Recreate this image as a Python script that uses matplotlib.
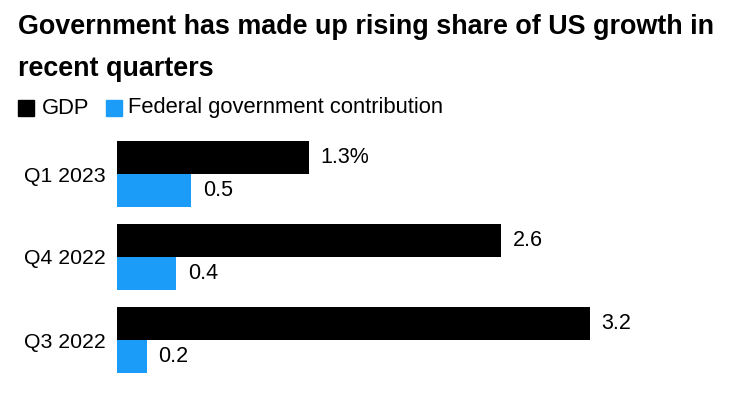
import matplotlib.pyplot as plt
from matplotlib.patches import Rectangle
import numpy as np

plt.rcParams['font.family'] = ['Liberation Sans', 'DejaVu Sans']

quarters = ["Q1 2023", "Q4 2022", "Q3 2022"]
gdp = [1.3, 2.6, 3.2]
federal = [0.5, 0.4, 0.2]
gdp_labels = ["1.3%", "2.6", "3.2"]
fed_labels = ["0.5", "0.4", "0.2"]

black = "#000000"
blue = "#1a9cf8"

W, H = 729, 396
fig = plt.figure(figsize=(W / 100, H / 100), dpi=100)

# axes placed in pixel terms: x=0 at px 117, 1 unit ~ 147.7 px
ax = fig.add_axes([117 / W, 1 - 381.5 / H, (3.5 * 147.7) / W, 249 / H])
y = np.arange(len(quarters))
h = 0.4
ax.barh(y - h / 2, gdp, height=h, color=black)
ax.barh(y + h / 2, federal, height=h, color=blue)

for i in range(len(quarters)):
    ax.text(gdp[i] + 0.08, y[i] - h / 2, gdp_labels[i], va="center", ha="left", fontsize=15.5)
    ax.text(federal[i] + 0.08, y[i] + h / 2, fed_labels[i], va="center", ha="left", fontsize=15.5)

ax.set_xlim(0, 3.5)
ax.set_ylim(2.5, -0.5)
ax.set_yticks(y)
ax.set_yticklabels(quarters, fontsize=15.3)
ax.tick_params(axis="y", length=0, pad=8)
ax.set_xticks([])
for s in ax.spines.values():
    s.set_visible(False)

# title
fig.text(18 / W, 1 - 34 / H, "Government has made up rising share of US growth in",
         fontsize=19.4, fontweight="bold", ha="left", va="baseline")
fig.text(18 / W, 1 - 76 / H, "recent quarters",
         fontsize=19.4, fontweight="bold", ha="left", va="baseline")

# legend
fig.patches.append(Rectangle((18 / W, 1 - 116 / H), 16 / W, 16 / H, color=black,
                             transform=fig.transFigure, figure=fig))
fig.text(42 / W, 1 - 108 / H, "GDP", fontsize=15.8, va="center", ha="left")
fig.patches.append(Rectangle((106 / W, 1 - 116 / H), 16 / W, 16 / H, color=blue,
                             transform=fig.transFigure, figure=fig))
fig.text(128 / W, 1 - 108 / H, "Federal government contribution", fontsize=15.8, va="center", ha="left")

plt.savefig("out.png", dpi=100)
